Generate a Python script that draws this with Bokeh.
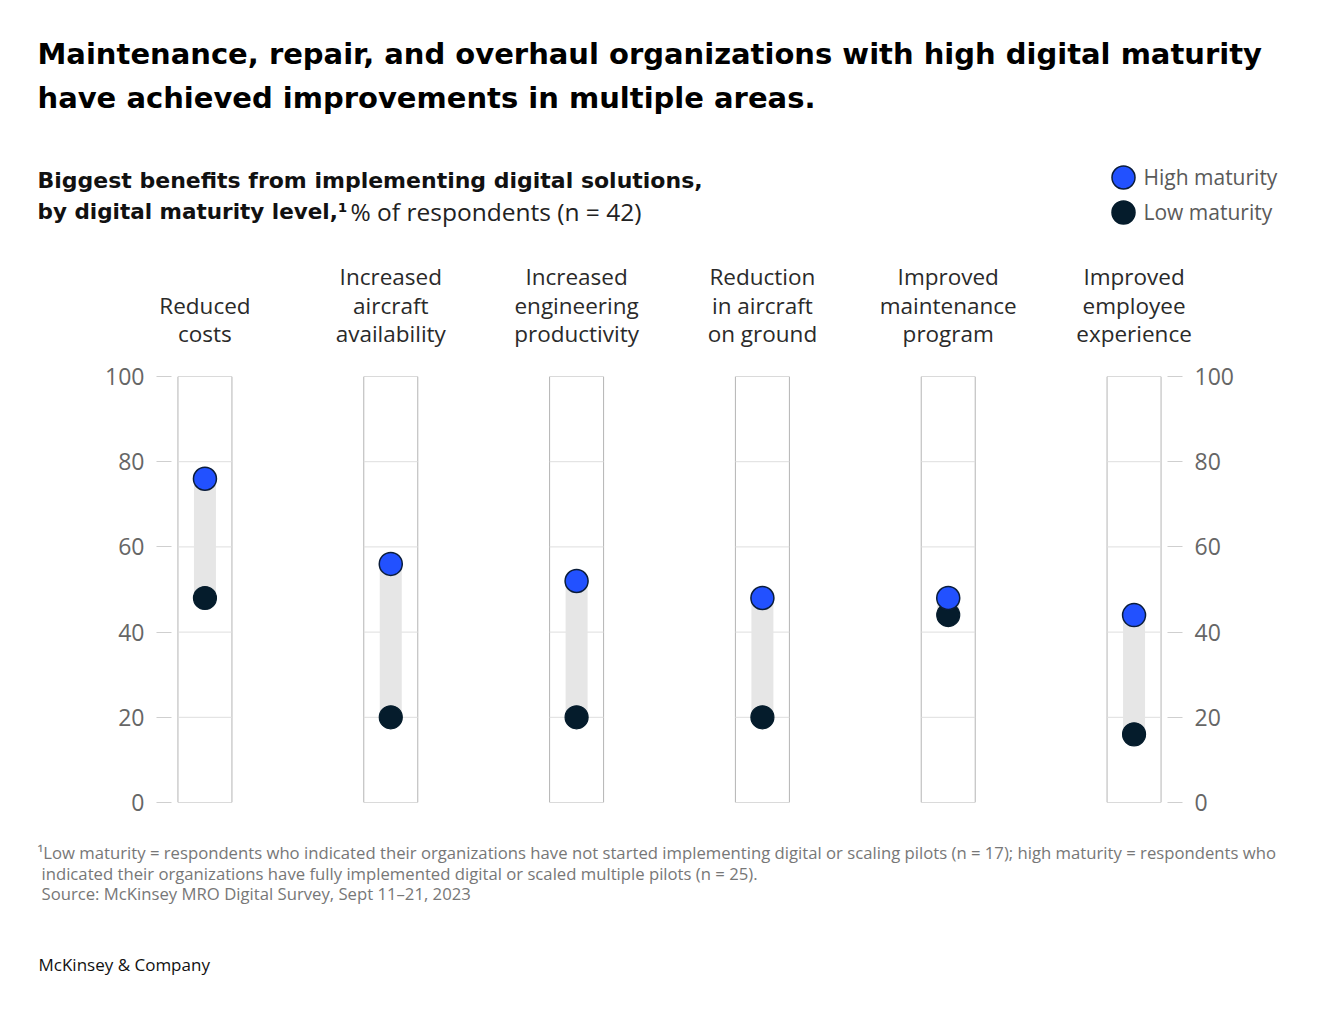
from bokeh.plotting import figure
from bokeh.layouts import column
from bokeh.models import ColumnDataSource, Range1d, FixedTicker, LinearAxis, Label
from bokeh.core.properties import value
from bokeh.embed import file_html
from bokeh.resources import INLINE

# ---------------- data ----------------
categories = ["Reduced\ncosts",
              "Increased\naircraft\navailability",
              "Increased\nengineering\nproductivity",
              "Reduction\nin aircraft\non ground",
              "Improved\nmaintenance\nprogram",
              "Improved\nemployee\nexperience"]
high_maturity = [76, 56, 52, 48, 48, 44]
low_maturity = [48, 20, 20, 20, 44, 16]
y_ticks = [0, 20, 40, 60, 80, 100]
grid_ticks = [20, 40, 60, 80]
series_names = ["High maturity", "Low maturity"]

title_lines = ["Maintenance, repair, and overhaul organizations with high digital maturity",
               "have achieved improvements in multiple areas."]
subtitle_bold_1 = "Biggest benefits from implementing digital solutions,"
subtitle_bold_2 = "by digital maturity level,\u00b9"
subtitle_reg_2 = "% of respondents (n = 42)"
footnote_lines = ["\u00b9Low maturity = respondents who indicated their organizations have not started implementing digital or scaling pilots (n = 17); high maturity = respondents who",
                  "indicated their organizations have fully implemented digital or scaled multiple pilots (n = 25).",
                  "Source: McKinsey MRO Digital Survey, Sept 11\u201321, 2023"]
brand = "McKinsey & Company"

# ---------------- style / layout ----------------
BOLD = "DejaVu Sans"
REG = "Open Sans"
BLUE = "#2251FF"
DARK = "#051C2C"
series_fill = [BLUE, DARK]
series_line = ["#0B1D3A", DARK]
W = 1310
HEAD_H = 250         # page y 0..250
CAT_H = 110          # page y 250..360
MID_H = 460          # page y 360..820
BOT_H = 180          # page y 820..1000
X0, X1 = -0.18, 5.18
FRAME_L, FRAME_W = 171, 996
FRAME_R = W - FRAME_L - FRAME_W
PXX = FRAME_W / (X1 - X0)
FRAME_T = 16
FRAME_B = 802 - (HEAD_H + CAT_H)


def blank(height, x_range, y_range):
    f = figure(width=W, height=height, x_range=x_range, y_range=y_range,
               output_backend="svg", toolbar_location=None, x_axis_location=None,
               y_axis_location=None, min_border=0, frame_align=False)
    f.outline_line_color = None
    f.xgrid.visible = False
    f.ygrid.visible = False
    return f


# ---------------- header ----------------
top = blank(HEAD_H, Range1d(0, W), Range1d(HEAD_H, 0))
for i, line in enumerate(title_lines):
    top.add_layout(Label(x=37, y=53 + 44 * i, text=line, text_baseline="middle",
                         text_font=BOLD, text_font_size="29px", text_font_style="bold",
                         text_color="#000000"))
top.add_layout(Label(x=37, y=180, text=subtitle_bold_1, text_baseline="middle",
                     text_font=BOLD, text_font_size="22px", text_font_style="bold",
                     text_color="#111111"))
top.add_layout(Label(x=37, y=211, text=subtitle_bold_2, text_baseline="middle",
                     text_font=BOLD, text_font_size="21.5px", text_font_style="bold",
                     text_color="#111111"))
top.add_layout(Label(x=350, y=211, text=subtitle_reg_2, text_baseline="middle",
                     text_font=REG, text_font_size="24.5px", text_color="#222222"))

# legend (drawn in the header)
leg_y = [177 + 35 * i for i in range(len(series_names))]
top.scatter(x=[1123] * len(series_names), y=leg_y, size=23, fill_color=series_fill,
            line_color=series_line, line_width=1.5)
for name, yy in zip(series_names, leg_y):
    top.add_layout(Label(x=1143, y=yy - 1, text=name, text_baseline="middle",
                         text_font=REG, text_font_size="21px", text_color="#5a5a5a"))

# ---------------- category labels (same x scale as the chart) ----------------
xs = list(range(len(categories)))
cat = blank(CAT_H, Range1d(X0 - FRAME_L / PXX, X1 + FRAME_R / PXX),
            Range1d(HEAD_H + CAT_H, HEAD_H))
LAST_LINE_Y = 333
LINE_PITCH = 28.5
lx, ly, lt = [], [], []
for x, c in zip(xs, categories):
    lines = c.split("\n")
    n = len(lines)
    for j, ln in enumerate(lines):
        lx.append(x)
        ly.append(LAST_LINE_Y - LINE_PITCH * (n - 1 - j))
        lt.append(ln)
cat.text(x="x", y="y", text="text", source=ColumnDataSource(dict(x=lx, y=ly, text=lt)),
         text_align="center", text_baseline="middle", text_font=value(REG),
         text_font_size="22.5px", text_color="#2a2a2a")

# ---------------- chart ----------------
p = figure(width=W, height=MID_H, x_range=Range1d(X0, X1), y_range=Range1d(0, 100),
           output_backend="svg", toolbar_location=None, x_axis_location=None,
           min_border_left=FRAME_L, min_border_right=FRAME_R,
           min_border_top=FRAME_T, min_border_bottom=MID_H - FRAME_B, frame_align=False)
p.outline_line_color = None
p.xgrid.visible = False
p.ygrid.visible = False


def style_axis(ax, standoff):
    ax.ticker = FixedTicker(ticks=y_ticks)
    ax.axis_line_color = None
    ax.major_tick_in = 0
    ax.major_tick_out = 15
    ax.minor_tick_out = 0
    ax.minor_tick_in = 0
    ax.major_tick_line_color = "#cfcfcf"
    ax.major_label_text_font = REG
    ax.major_label_text_font_size = "23px"
    ax.major_label_text_color = "#666666"
    ax.major_label_standoff = standoff


style_axis(p.yaxis[0], 12)
rax = LinearAxis()
style_axis(rax, 12)
p.add_layout(rax, "right")

col_w = 54 / PXX
p.vbar(x=xs, width=col_w, bottom=0, top=100, fill_color="white",
       line_color="#b5b5b5", line_width=1)
gx0, gx1, gy = [], [], []
for x in xs:
    for t in grid_ticks:
        gx0.append(x - col_w / 2)
        gx1.append(x + col_w / 2)
        gy.append(t)
p.segment(x0=gx0, x1=gx1, y0=gy, y1=gy, line_color="#dedede", line_width=1)

p.vbar(x=xs, width=22 / PXX, bottom=low_maturity, top=high_maturity,
       fill_color="#e6e6e6", line_color=None)
p.scatter(xs, low_maturity, size=23, fill_color=series_fill[1], line_color=series_line[1],
          line_width=1.2)
p.scatter(xs, high_maturity, size=23, fill_color=series_fill[0], line_color=series_line[0],
          line_width=1.5)

# ---------------- footer ----------------
bot = blank(BOT_H, Range1d(0, W), Range1d(820 + BOT_H, 820))
foot_x = [37, 41, 41]
for i, line in enumerate(footnote_lines):
    bot.add_layout(Label(x=foot_x[i], y=852 + 20.5 * i, text=line, text_baseline="middle",
                         text_font=REG, text_font_size="16.7px", text_color="#777777"))
bot.add_layout(Label(x=38, y=964, text=brand, text_baseline="middle",
                     text_font=REG, text_font_size="17px", text_color="#111111"))

layout = column(top, cat, p, bot, spacing=0)
open("out.html", "w").write(file_html(layout, INLINE))
